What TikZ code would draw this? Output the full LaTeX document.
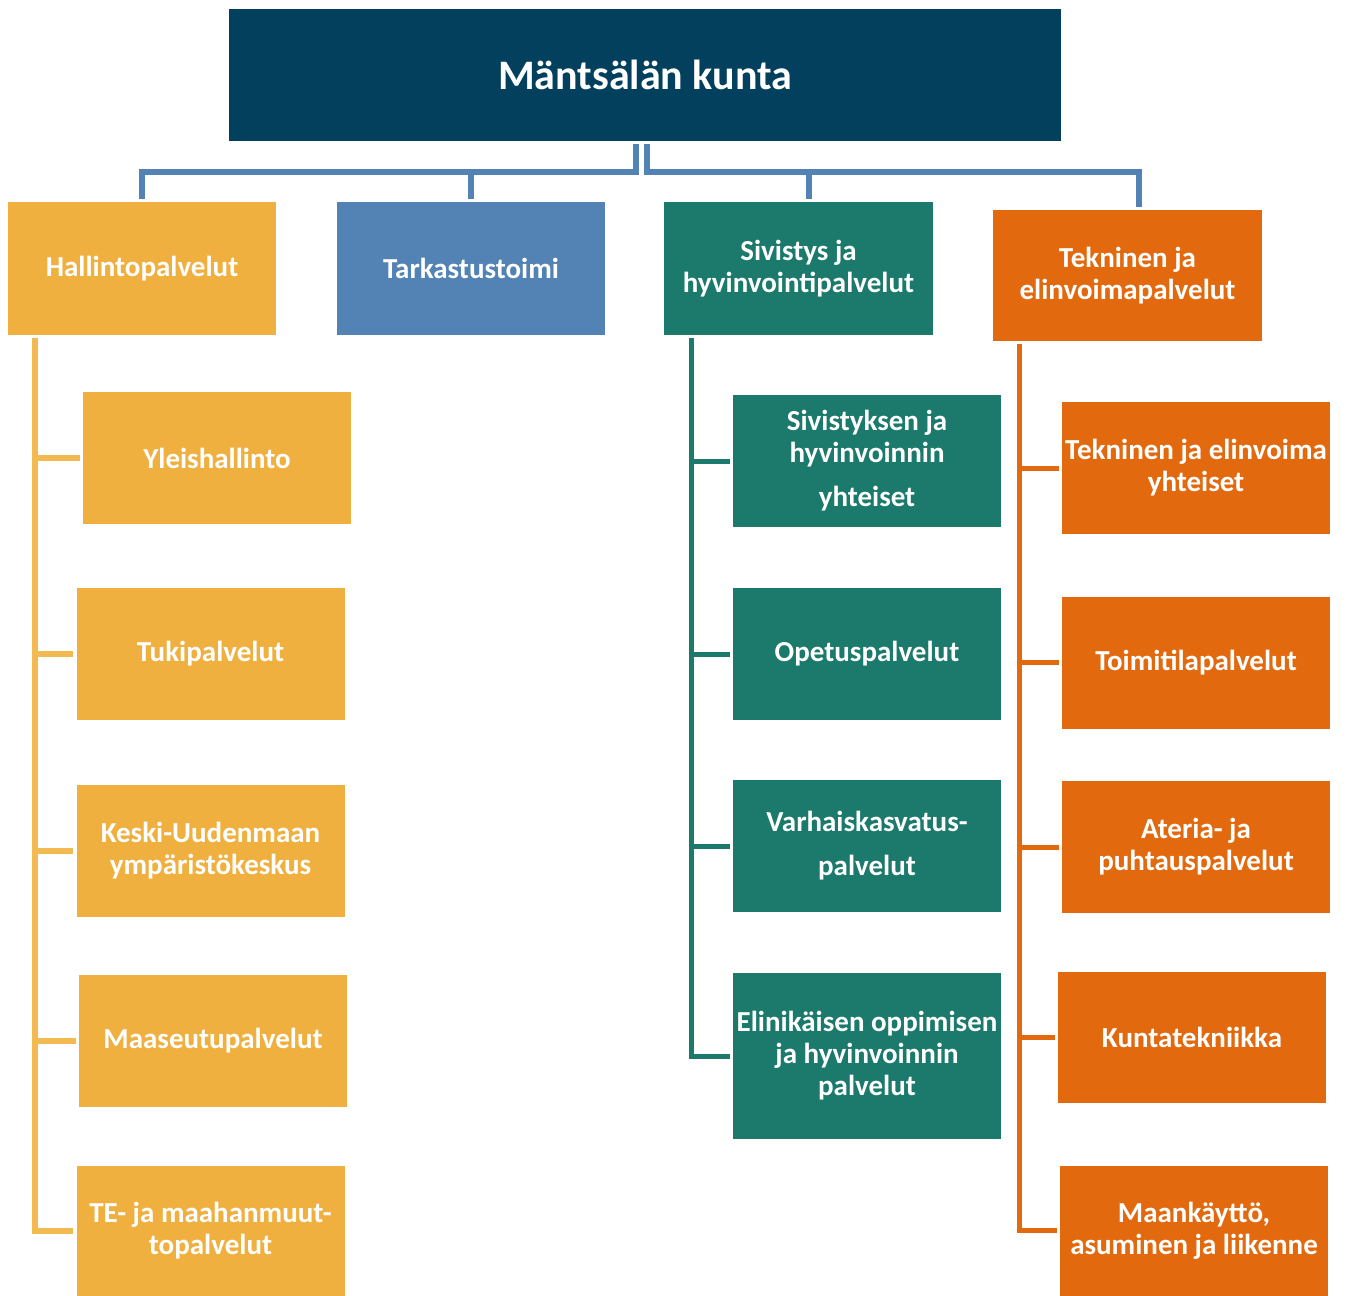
\documentclass[tikz,border=0pt]{standalone}
\usepackage{fontspec}
\setmainfont{Carlito}
\definecolor{navy}{RGB}{2,64,94}
\definecolor{kulta}{RGB}{239,176,64}
\definecolor{kultaviiva}{RGB}{243,186,82}
\definecolor{sini}{RGB}{82,131,180}
\definecolor{vihrea}{RGB}{27,122,107}
\definecolor{oranssi}{RGB}{226,105,14}
\tikzset{
	yksikko/.style={minimum width=268pt, minimum height=132pt, inner sep=0pt,
		align=center, text=white, font=\bfseries\fontsize{29}{32}\selectfont},
	viiva/.style={line width=5.5pt, shorten <=3pt, shorten >=3pt}
}
\begin{document}
\begin{tikzpicture}[x=1pt, y=-1pt]
	\useasboundingbox (0,0) rectangle (1348,1295);
	%kunta
	\node[yksikko, fill=navy, minimum width=832pt,
		font=\bfseries\fontsize{42}{48}\selectfont] (kunta) at (645,75) {Mäntsälän kunta};
	%palvelualueet
	\node[yksikko, fill=kulta, minimum height=133pt] (hal) at (142,268.5) {Hallintopalvelut};
	\node[yksikko, fill=sini, minimum height=133pt] (tar) at (471,268.5) {Tarkastustoimi};
	\node[yksikko, fill=vihrea, minimum height=133pt, minimum width=269pt] (siv) at (798.5,268.5)
		{Sivistys ja\\hyvinvointipalvelut};
	\node[yksikko, fill=oranssi, minimum height=131pt, minimum width=269pt] (tek) at (1127.5,275.5)
		{Tekninen ja\\elinvoimapalvelut};
	%hallintopalvelut
	\node[yksikko, fill=kulta] (yle) at (217,458) {Yleishallinto};
	\node[yksikko, fill=kulta] (tuk) at (210.5,654) {Tukipalvelut};
	\node[yksikko, fill=kulta] (kes) at (210.5,851) {Keski-Uudenmaan\\ympäristökeskus};
	\node[yksikko, fill=kulta] (maa) at (213,1041) {Maaseutupalvelut};
	\node[yksikko, fill=kulta, minimum height=130pt] (te) at (210.5,1230.5) {TE- ja maahanmuut-\\topalvelut};
	%sivistys
	\node[yksikko, fill=vihrea] (sij) at (867,461) {Sivistyksen ja\\hyvinvoinnin\\[12pt]yhteiset};
	\node[yksikko, fill=vihrea] (ope) at (867,654) {Opetuspalvelut};
	\node[yksikko, fill=vihrea] (var) at (867,846) {Varhaiskasvatus-\\[12pt]palvelut};
	\node[yksikko, fill=vihrea, minimum height=166pt] (eli) at (867,1056)
		{Elinikäisen oppimisen\\ja hyvinvoinnin\\palvelut};
	%tekninen
	\node[yksikko, fill=oranssi] (tey) at (1196,468) {Tekninen ja elinvoima\\yhteiset};
	\node[yksikko, fill=oranssi] (toi) at (1196,662.5) {Toimitilapalvelut};
	\node[yksikko, fill=oranssi] (ate) at (1196,847) {Ateria- ja\\puhtauspalvelut};
	\node[yksikko, fill=oranssi, minimum height=131pt] (kun) at (1192,1037.5) {Kuntatekniikka};
	\node[yksikko, fill=oranssi, minimum height=130pt] (mkl) at (1194,1230.5) {Maankäyttö,\\asuminen ja liikenne};
	%yhteydet kunnasta
	\coordinate (vasen) at (636,172);
	\coordinate (oikea) at (646.5,172);
	\draw[viiva, sini, line width=6pt] (kunta.south -| vasen) -- (vasen) -| (hal.north);
	\draw[viiva, sini, line width=6pt] (kunta.south -| vasen) -- (vasen) -| (tar.north);
	\draw[viiva, sini, line width=6pt] (kunta.south -| oikea) -- (oikea) -| ([xshift=10pt]siv.north);
	\draw[viiva, sini, line width=6pt] (kunta.south -| oikea) -- (oikea) -| ([xshift=11.5pt]tek.north);
	%haarat
	\foreach \n in {yle,tuk,kes,maa,te}
	\draw[viiva, kultaviiva, line width=6pt] ([xshift=27pt]hal.south west) |- (\n.west);
	\foreach \n in {sij,ope,var,eli}
	\draw[viiva, vihrea, line width=5pt] ([xshift=28pt]siv.south west) |- (\n.west);
	\foreach \n in {tey,toi,ate,kun,mkl}
	\draw[viiva, oranssi, line width=5pt] ([xshift=27pt]tek.south west) |- (\n.west);
\end{tikzpicture}
\end{document}
